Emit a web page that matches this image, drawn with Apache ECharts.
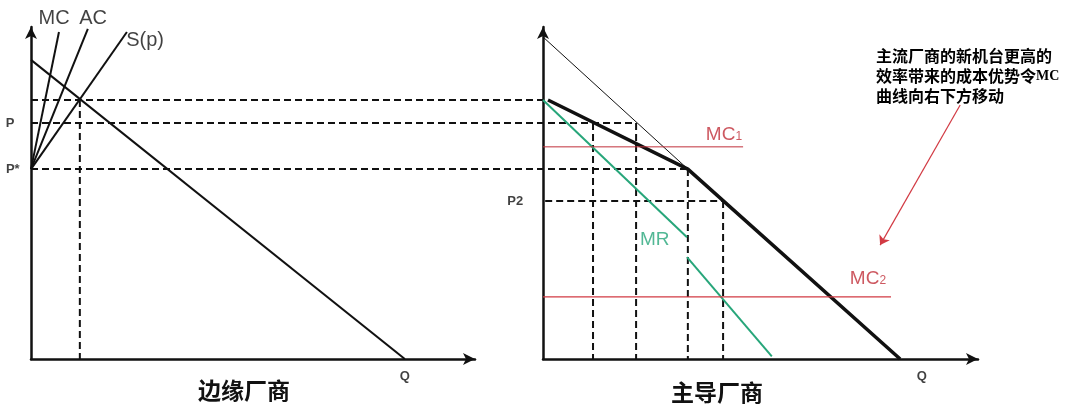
<!DOCTYPE html>
<html><head><meta charset="utf-8">
<script src="https://cdn.jsdelivr.net/npm/echarts@6/dist/echarts.min.js"></script>
<style>html,body{margin:0;padding:0;background:#fff}#c{width:1072px;height:419px}</style>
</head><body><div id="c"></div>
<script>
// ---------- data: left panel (边缘厂商), units 0..100 ----------
const leftDemand  = [[0, 90.1], [84.2, 0]];
const leftMC      = [[0, 57.2], [6.3, 98.5]];
const leftAC      = [[0, 57.2], [12.8, 99.4]];
const leftSupply  = [[0, 57.2], [21.6, 98.5]];
const leftQGuide  = [[11.0, 78.0], [11.0, 0]];
const leftCurveLabels = [['MC', 5.2, 102.7], ['AC', 14.0, 102.7], ['S(p)', 25.7, 95.8]];
const leftAxisLabels  = [['P', -4.7, 71.1], ['P*', -4.1, 57.2], ['Q', 84.2, -5.1]];

// ---------- data: price guides spanning both panels (shared price scale) ----------
const guideTop    = [[0, 78.0], [54.07, 78.0]];
const guideP      = [[0, 71.1], [63.9, 71.1]];
const guidePstar  = [[0, 57.2], [69.4, 57.2]];

// ---------- data: right panel (主导厂商) ----------
const rightThin    = [[0, 97.0], [33.3, 57.2]];
const rightKinked  = [[1.15, 78.0], [33.3, 57.2], [82.1, 0]];
const mrUpper      = [[0, 78.0], [33.1, 36.7]];
const mrLower      = [[33.1, 30.7], [52.6, 0.8]];
const mc1Line      = [[0, 63.9], [46.0, 63.9]];
const mc2Line      = [[0, 18.7], [80.0, 18.7]];
const p2Guide      = [[0.5, 47.6], [41.4, 47.6]];
const rightVGuides = [
  [[11.5, 71.1], [11.5, 0]],
  [[21.4, 71.1], [21.4, 0]],
  [[33.3, 57.2], [33.3, 0]],
  [[41.4, 47.6], [41.4, 0]]
];
const shiftArrow   = [[95.9, 76.5], [77.5, 34.3]];
const rightAxisLabels = [['P2', -6.4, 47.6], ['Q', 87.1, -5.1]];
const mcLabels     = [['1', 41.6, 68.1], ['2', 74.7, 24.7]];
const mrLabel      = ['MR', 25.7, 35.8];

const panelTitles  = ['边缘厂商', '主导厂商'];
const noteLines    = ['主流厂商的新机台更高的', '效率带来的成本优势令', 'MC', '曲线向右下方移动'];

// ---------- styles ----------
const BLACK = '#111';
const GREEN = '#27a67a';
const RED = '#d23a43';
const DARKRED = '#c0303a';
const LATIN = '"Liberation Sans", Arial, sans-serif';
const CJK = '"Noto Sans CJK SC", sans-serif';

function axis(gi, visible) {
  return {
    gridIndex: gi, type: 'value', min: 0, max: 100,
    axisLine: { show: visible, onZero: false, symbol: ['none', 'arrow'], symbolSize: [9, 12],
      lineStyle: { color: BLACK, width: 2.5 } },
    axisTick: { show: false }, axisLabel: { show: false }, splitLine: { show: false }
  };
}
function line(gi, data, color, width, type) {
  return {
    type: 'line', xAxisIndex: gi, yAxisIndex: gi, data: data,
    showSymbol: false, symbol: 'none', clip: false, silent: true,
    lineStyle: { color: color, width: width, type: type || 'solid' },
    z: 3
  };
}
function dashed(gi, data) {
  const s = line(gi, data, BLACK, 2, [7, 4]);
  s.z = 2;
  return s;
}
function textSeries(gi, items, style) {
  return {
    type: 'scatter', xAxisIndex: gi, yAxisIndex: gi, symbolSize: 0, silent: true,
    data: items.map(t => ({ value: [t[1], t[2]], name: t[0] })),
    label: Object.assign({ show: true, position: 'inside', formatter: p => p.name }, style),
    clip: false, z: 5
  };
}

const series = [];
// left
series.push(line(0, leftDemand, BLACK, 2));
series.push(line(0, leftMC, BLACK, 2));
series.push(line(0, leftAC, BLACK, 2));
series.push(line(0, leftSupply, BLACK, 2));
series.push(dashed(0, leftQGuide));
series.push(textSeries(0, leftCurveLabels, { fontFamily: LATIN, fontSize: 20, color: BLACK }));
series.push(textSeries(0, leftAxisLabels, { fontFamily: LATIN, fontSize: 13, fontWeight: 'bold', color: BLACK }));
// spanning guides
series.push(dashed(2, guideTop));
series.push(dashed(2, guideP));
series.push(dashed(2, guidePstar));
// right
series.push(line(1, rightThin, BLACK, 1));
series.push(line(1, rightKinked, BLACK, 3.5));
series.push(line(1, mrUpper, GREEN, 2));
series.push(line(1, mrLower, GREEN, 2));
series.push(line(1, mc1Line, DARKRED, 1));
series.push(line(1, mc2Line, RED, 1.2));
series.push(dashed(1, p2Guide));
rightVGuides.forEach(g => series.push(dashed(1, g)));
series.push(textSeries(1, rightAxisLabels, { fontFamily: LATIN, fontSize: 13, fontWeight: 'bold', color: BLACK }));
series.push(textSeries(1, [mrLabel], { fontFamily: LATIN, fontSize: 19, color: GREEN }));
series.push(textSeries(1, mcLabels, {
  formatter: p => '{m|MC}{s|' + p.name + '}',
  rich: {
    m: { fontFamily: LATIN, fontSize: 19, color: DARKRED, lineHeight: 22, verticalAlign: 'bottom' },
    s: { fontFamily: LATIN, fontSize: 12, color: DARKRED, lineHeight: 12, verticalAlign: 'bottom', padding: [0, 0, 1, 0] }
  }
}));
// shift arrow
series.push({
  type: 'line', xAxisIndex: 1, yAxisIndex: 1, data: [], silent: true,
  markLine: {
    silent: true, animation: false, symbol: ['none', 'arrow'], symbolSize: 9,
    label: { show: false },
    lineStyle: { color: RED, width: 1.2, type: 'solid' },
    data: [[{ coord: shiftArrow[0] }, { coord: shiftArrow[1] }]]
  }
});

const chart = echarts.init(document.getElementById('c'), null, { renderer: 'canvas' });
chart.setOption({
  animation: false,
  backgroundColor: '#fff',
  grid: [
    { left: 31, right: 597, top: 27, bottom: 60 },
    { left: 543, right: 94, top: 27, bottom: 60 },
    { left: 31, right: 94, top: 27, bottom: 60 }
  ],
  xAxis: [axis(0, true), axis(1, true), axis(2, false)],
  yAxis: [axis(0, true), axis(1, true), axis(2, false)],
  series: series,
  graphic: [
    { type: 'text', left: 198, top: 379, style: { text: panelTitles[0], font: 'bold 23px ' + CJK, fill: '#111' } },
    { type: 'text', left: 671, top: 381, style: { text: panelTitles[1], font: 'bold 23px ' + CJK, fill: '#111' } },
    { type: 'text', left: 876, top: 48, style: {
        text: '{c|' + noteLines[0] + '}\n{c|' + noteLines[1] + '}{e|' + noteLines[2] + '}\n{c|' + noteLines[3] + '}',
        rich: {
          c: { fontFamily: CJK, fontWeight: 'bold', fontSize: 16, lineHeight: 20, color: '#1d2a36' },
          e: { fontFamily: '"Liberation Serif", serif', fontWeight: 'bold', fontSize: 14, lineHeight: 20, color: '#1d2a36' }
        }
      } }
  ]
});
</script>
</body></html>
